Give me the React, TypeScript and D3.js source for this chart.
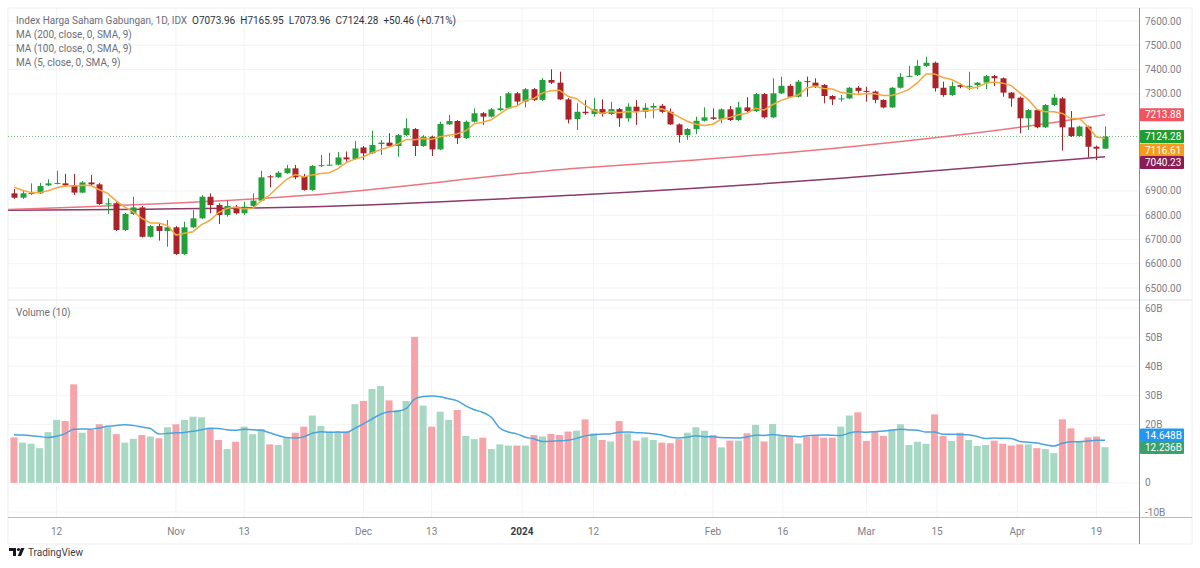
import React from "react";
import * as d3 from "d3";

const opens = [6890,6872,6888,6890,6923,6930,6931,6924,6893,6935,6927,6844,6849,6739,6805,6832,6711,6755,6735,6750,6640,6750,6787,6876,6842,6801,6835,6808,6838,6860,6960,6956,6973,6993,6961,6904,7003,7006,7008,7038,7031,7079,7055,7093,7099,7085,7130,7155,7085,7123,7071,7174,7188,7117,7185,7220,7206,7233,7240,7302,7268,7319,7275,7357,7346,7277,7196,7226,7217,7237,7217,7237,7199,7247,7226,7243,7251,7226,7174,7130,7155,7189,7203,7195,7236,7192,7244,7229,7299,7203,7302,7333,7288,7352,7346,7336,7291,7277,7281,7325,7312,7309,7275,7244,7325,7370,7377,7415,7428,7325,7295,7336,7330,7336,7346,7373,7364,7305,7284,7199,7233,7162,7254,7281,7162,7126,7165,7082,7073.96];
const highs = [6908,6904,6931,6933,6948,6983,6970,6970,6941,6966,6933,6870,6854,6809,6876,6838,6759,6764,6780,6755,6773,6821,6883,6890,6849,6862,6842,6855,6890,6983,6966,6982,7007,7007,6970,7007,7048,7057,7060,7062,7106,7085,7148,7110,7138,7134,7199,7159,7130,7128,7185,7213,7192,7190,7240,7225,7242,7291,7307,7307,7324,7324,7365,7401,7391,7283,7261,7274,7282,7277,7267,7242,7261,7274,7261,7261,7258,7240,7178,7159,7206,7244,7240,7240,7250,7267,7286,7303,7303,7364,7371,7340,7357,7371,7364,7340,7295,7295,7328,7332,7329,7314,7277,7328,7385,7415,7439,7453,7433,7350,7350,7343,7391,7349,7378,7378,7367,7307,7289,7237,7237,7258,7299,7287,7229,7169,7169,7087,7165.95];
const lows = [6867,6867,6883,6887,6920,6927,6917,6883,6891,6920,6842,6805,6735,6735,6801,6708,6708,6695,6670,6636,6636,6747,6784,6808,6764,6794,6803,6801,6832,6856,6915,6953,6970,6948,6901,6900,6999,7003,7005,7020,7027,7027,7052,7048,7081,7041,7126,7044,7081,7044,7068,7172,7093,7114,7182,7172,7202,7229,7237,7250,7244,7270,7270,7340,7274,7178,7151,7213,7206,7206,7213,7164,7185,7172,7199,7199,7220,7172,7099,7110,7134,7186,7192,7179,7188,7188,7225,7225,7198,7200,7299,7283,7285,7288,7324,7261,7254,7268,7279,7302,7268,7261,7240,7242,7322,7370,7373,7410,7309,7288,7291,7323,7316,7319,7319,7332,7288,7247,7137,7151,7158,7159,7250,7066,7122,7123,7038,7027,7073.96];
const closes = [6872,6890,6891,6920,6931,6933,6923,6893,6935,6927,6846,6849,6739,6805,6832,6711,6755,6735,6750,6640,6750,6787,6876,6842,6801,6838,6808,6835,6860,6956,6957,6975,6993,6956,6904,7003,7006,7008,7038,7030,7075,7055,7089,7099,7085,7130,7158,7085,7123,7071,7176,7188,7117,7185,7220,7206,7236,7240,7302,7268,7319,7275,7357,7346,7277,7194,7226,7220,7237,7217,7237,7199,7247,7226,7243,7250,7226,7174,7130,7155,7189,7203,7197,7236,7192,7244,7229,7299,7203,7302,7333,7288,7350,7349,7333,7291,7277,7281,7325,7312,7308,7275,7244,7325,7370,7374,7415,7428,7323,7295,7332,7329,7333,7346,7373,7364,7305,7281,7199,7233,7162,7254,7284,7162,7126,7165,7082,7073.82,7124.28];
const volumes = [15.6,13.8,13.4,11.9,17.4,21.6,21.2,33.8,17.2,18.2,20.1,19.1,16.7,13.8,15.1,16.4,15.9,15.3,19.1,20.1,21.6,22.7,22.5,18.6,14.7,11.6,14.1,19.3,16.7,18.5,13.2,13.0,15.5,17.2,19.3,23.1,19.5,17.6,17.6,17.6,27.0,28.1,32.2,33.2,28.3,25.0,28.1,50.1,26.5,19.3,24.4,21.6,25.0,16.1,15.0,15.5,11.6,13.2,12.8,12.8,12.8,16.4,15.9,16.8,16.4,17.6,17.9,21.8,17.0,14.7,14.2,21.2,17.0,14.5,15.6,14.7,13.8,13.6,15.0,17.2,19.1,17.9,16.4,12.2,14.5,14.5,17.0,19.9,14.2,20.2,16.0,16.0,13.5,15.9,16.4,15.5,15.5,19.3,23.1,24.2,14.4,17.6,16.1,18.4,20.1,13.0,14.1,13.4,23.5,16.1,14.4,17.2,14.7,12.7,13.0,14.5,13.4,12.8,13.2,13.2,11.9,11.6,10.2,21.8,18.7,14.4,15.6,15.9,12.236];
const ma5 = [6915,6903,6893,6893,6901,6913,6920,6920,6923,6922,6905,6890,6859,6833,6814,6787,6768,6768,6757,6718,6726,6732,6761,6779,6811,6829,6833,6825,6828,6859,6883,6917,6948,6967,6957,6966,6972,6975,6992,7017,7031,7041,7057,7070,7081,7092,7112,7111,7116,7113,7123,7129,7135,7147,7177,7183,7193,7217,7241,7250,7273,7281,7304,7313,7315,7290,7280,7253,7231,7219,7227,7222,7227,7225,7230,7233,7238,7224,7205,7187,7175,7170,7175,7196,7203,7214,7220,7240,7233,7255,7273,7285,7295,7324,7331,7322,7320,7306,7301,7297,7301,7300,7293,7293,7304,7318,7346,7382,7382,7367,7359,7341,7322,7327,7343,7349,7344,7334,7304,7276,7236,7226,7226,7219,7198,7198,7164,7122,7116.61];
const volMa = [16.5,16.4,16.2,15.9,15.6,16.0,16.9,18.4,18.5,18.41,18.86,19.39,19.72,19.91,19.68,19.16,18.63,16.78,16.97,17.16,17.31,17.67,18.25,18.73,18.69,18.21,18.03,18.43,18.19,18.03,17.19,16.22,15.52,15.38,15.84,16.99,17.53,17.36,17.45,17.36,18.74,20.25,21.92,23.52,24.42,24.61,25.47,28.72,29.61,29.78,29.52,28.87,28.15,26.44,25.11,24.16,22.51,18.82,17.45,16.80,15.64,15.12,14.21,14.28,14.42,14.63,15.26,16.12,16.54,16.73,16.87,17.35,17.46,17.23,17.15,16.86,16.45,15.63,15.43,15.68,16.17,15.84,15.78,15.55,15.44,15.42,15.74,16.37,16.29,16.59,16.28,16.09,15.80,16.17,16.36,16.46,16.31,16.25,17.14,17.54,17.38,17.54,17.80,18.05,18.42,18.17,18.03,17.44,17.48,16.67,16.67,16.63,16.49,15.92,15.21,15.36,15.29,15.23,14.20,13.91,13.66,13.10,12.65,13.56,14.13,14.12,14.34,14.65,14.648];
// sampled MA readings: [bar index, value]
const ma100Pts = [[-1,6823],[34,6881],[66,6993],[80,7027],[99,7085],[118,7162],[128,7213.88]];
const ma200Pts = [[-1,6820],[34,6834],[66,6883],[97,6952],[128,7040.23]];
const priceTicks = [7600,7500,7400,7300,6900,6800,6700,6600,6500];
const volTicks = [60,50,40,30,20,0,-10];
const timeTicks = [[5,"12"],[19,"Nov"],[27,"13"],[41,"Dec"],[49,"13"],[59.6,"2024"],[68,"12"],[82,"Feb"],[90.2,"16"],[100,"Mar"],[108.3,"15"],[117.7,"Apr"],[127,"19"]];

const UP = "#22a03a";
const DOWN = "#a92329";
const VUP = "#a6d8c3";
const VDOWN = "#f5a4aa";
const FONT = "Roboto, 'Open Sans', sans-serif";

export default function App() {
  const W = 1200, H = 568;
  const left = 8, right = 1139;
  const x = d3.scaleLinear().domain([0, 128]).range([14, 1105]);
  const y = d3.scaleLinear().domain([6500, 7600]).range([288, 21]);
  const vy = d3.scaleLinear().domain([-10, 60]).range([512, 308]);
  const n = closes.length;
  const idx = d3.range(n);

  const lineP = d3.line<number>().x((i) => x(i)).y((i) => y(ma5[i]));
  const lineV = d3.line<number>().x((i) => x(i)).y((i) => vy(volMa[i])).curve(d3.curveMonotoneX);
  const linePts = d3.line<number[]>().x((d) => x(d[0])).y((d) => y(d[1])).curve(d3.curveMonotoneX);

  const priceLabels = [
    { y: y(7213.88), bg: "#f0545f", t: "7213.88" },
    { y: y(7124.28), bg: "#1f9d33", t: "7124.28" },
    { y: 150, bg: "#f59c1a", t: "7116.61" },
    { y: 162.5, bg: "#8a1c55", t: "7040.23" },
  ];
  const volLabels = [
    { y: 435, bg: "#2196f3", t: "14.648B" },
    { y: 447.5, bg: "#3aa06f", t: "12.236B" },
  ];

  return (
    <svg width={W} height={H} style={{ display: "block", position: "absolute", left: 0, top: 0 }} fontFamily={FONT}>
      <defs>
        <clipPath id="cp"><rect x={left} y={8} width={right - left} height={292} /></clipPath>
        <clipPath id="cv"><rect x={left} y={300} width={right - left} height={217} /></clipPath>
      </defs>
      <rect x={0} y={0} width={W} height={H} fill="#fff" />
      {/* grid */}
      {timeTicks.map(([i], k) => (
        <line key={"gv" + k} x1={x(i as number)} x2={x(i as number)} y1={8} y2={517} stroke="#f2f3f6" />
      ))}
      {priceTicks.map((p) => (
        <line key={"gh" + p} x1={left} x2={right} y1={y(p)} y2={y(p)} stroke="#f2f3f6" />
      ))}
      {volTicks.map((v) => (
        <line key={"gvh" + v} x1={left} x2={right} y1={vy(v)} y2={vy(v)} stroke="#f4f5f7" />
      ))}
      {/* frame */}
      <rect x={left} y={8} width={1184} height={536} fill="none" stroke="#eceef2" />
      <line x1={left} x2={1192} y1={300} y2={300} stroke="#e0e3eb" />
      <line x1={left} x2={1192} y1={517.5} y2={517.5} stroke="#b8bcc6" />
      <line x1={right + 0.5} x2={right + 0.5} y1={8} y2={544} stroke="#8a8e98" />

      {/* price pane */}
      <g clipPath="url(#cp)">
        <line x1={left} x2={right} y1={y(7124.28)} y2={y(7124.28)} stroke="#4caf50" strokeDasharray="1,2" strokeOpacity={0.8} />
        <path d={linePts(ma200Pts) || ""} fill="none" stroke="#8b3a6c" strokeWidth={1.5} />
        <path d={linePts(ma100Pts) || ""} fill="none" stroke="#ee7480" strokeWidth={1.5} />
        {idx.map((i) => {
          const up = closes[i] >= opens[i];
          const c = up ? UP : DOWN;
          const top = y(Math.max(opens[i], closes[i]));
          const bot = y(Math.min(opens[i], closes[i]));
          const cx = Math.round(x(i)) + 0.5;
          return (
            <g key={"c" + i}>
              <line x1={cx} x2={cx} y1={y(highs[i])} y2={y(lows[i])} stroke={c} strokeWidth={1} />
              <rect x={cx - 3} y={top} width={6} height={Math.max(1, bot - top)} fill={c} />
            </g>
          );
        })}
        <path d={lineP(idx) || ""} fill="none" stroke="#f4a940" strokeWidth={1.5} />
      </g>

      {/* volume pane */}
      <g clipPath="url(#cv)">
        {idx.map((i) => {
          const up = closes[i] >= opens[i];
          return (
            <rect key={"v" + i} x={x(i) - 3.5} y={vy(volumes[i])} width={7} height={vy(0) - vy(volumes[i])} fill={up ? VUP : VDOWN} />
          );
        })}
        <path d={lineV(idx) || ""} fill="none" stroke="#4aa3df" strokeWidth={1.5} />
      </g>

      {/* legend */}
      <text x={16} y={24} fontSize={10} fill="#6b6f7a">
        Index Harga Saham Gabungan, 1D, IDX
        <tspan dx={5} fill="#2f3340">O7073.96</tspan>
        <tspan dx={5} fill="#2f3340">H7165.95</tspan>
        <tspan dx={5} fill="#2f3340">L7073.96</tspan>
        <tspan dx={5} fill="#2f3340">C7124.28</tspan>
        <tspan dx={5} fill="#2f3340">+50.46 (+0.71%)</tspan>
      </text>
      <text x={16} y={38} fontSize={10} fill="#6b6f7a">MA (200, close, 0, SMA, 9)</text>
      <text x={16} y={52} fontSize={10} fill="#6b6f7a">MA (100, close, 0, SMA, 9)</text>
      <text x={16} y={66} fontSize={10} fill="#6b6f7a">MA (5, close, 0, SMA, 9)</text>
      <text x={16} y={316} fontSize={10} fill="#6b6f7a">Volume (10)</text>

      {/* price axis */}
      {priceTicks.map((p) => (
        <text key={"pt" + p} x={1145} y={y(p) + 3.5} fontSize={10} fill="#7d808a">{p.toFixed(2)}</text>
      ))}
      {priceLabels.map((l) => (
        <g key={l.t}>
          <rect x={1140} y={l.y - 6.5} width={44} height={13} fill={l.bg} rx={1} />
          <text x={1145} y={l.y + 3.5} fontSize={10} fill="#fff">{l.t}</text>
        </g>
      ))}
      {/* volume axis */}
      {volTicks.map((v) => (
        <text key={"vt" + v} x={1145} y={vy(v) + 3.5} fontSize={10} fill="#7d808a">{v === 0 ? "0" : v + "B"}</text>
      ))}
      {volLabels.map((l) => (
        <g key={l.t}>
          <rect x={1140} y={l.y - 6.5} width={44} height={13} fill={l.bg} rx={1} />
          <text x={1145} y={l.y + 3.5} fontSize={10} fill="#fff">{l.t}</text>
        </g>
      ))}
      {/* time axis */}
      {timeTicks.map(([i, t], k) => (
        <text key={"tt" + k} x={x(i as number)} y={535} fontSize={10} textAnchor="middle" fill={t === "2024" ? "#3a3d46" : "#7d808a"} fontWeight={t === "2024" ? 700 : 400}>{t as string}</text>
      ))}
      {/* logo */}
      <g fill="#131722">
        <path d="M9 548 h7 v8 h-3 v-5 h-4 z" />
        <circle cx={18.5} cy={549.5} r={1.6} />
        <path d="M21 548 h3.5 l-3.5 8 h-3.2 z" />
      </g>
      <text x={28} y={556} fontSize={10} fill="#3a3d46">TradingView</text>
    </svg>
  );
}
